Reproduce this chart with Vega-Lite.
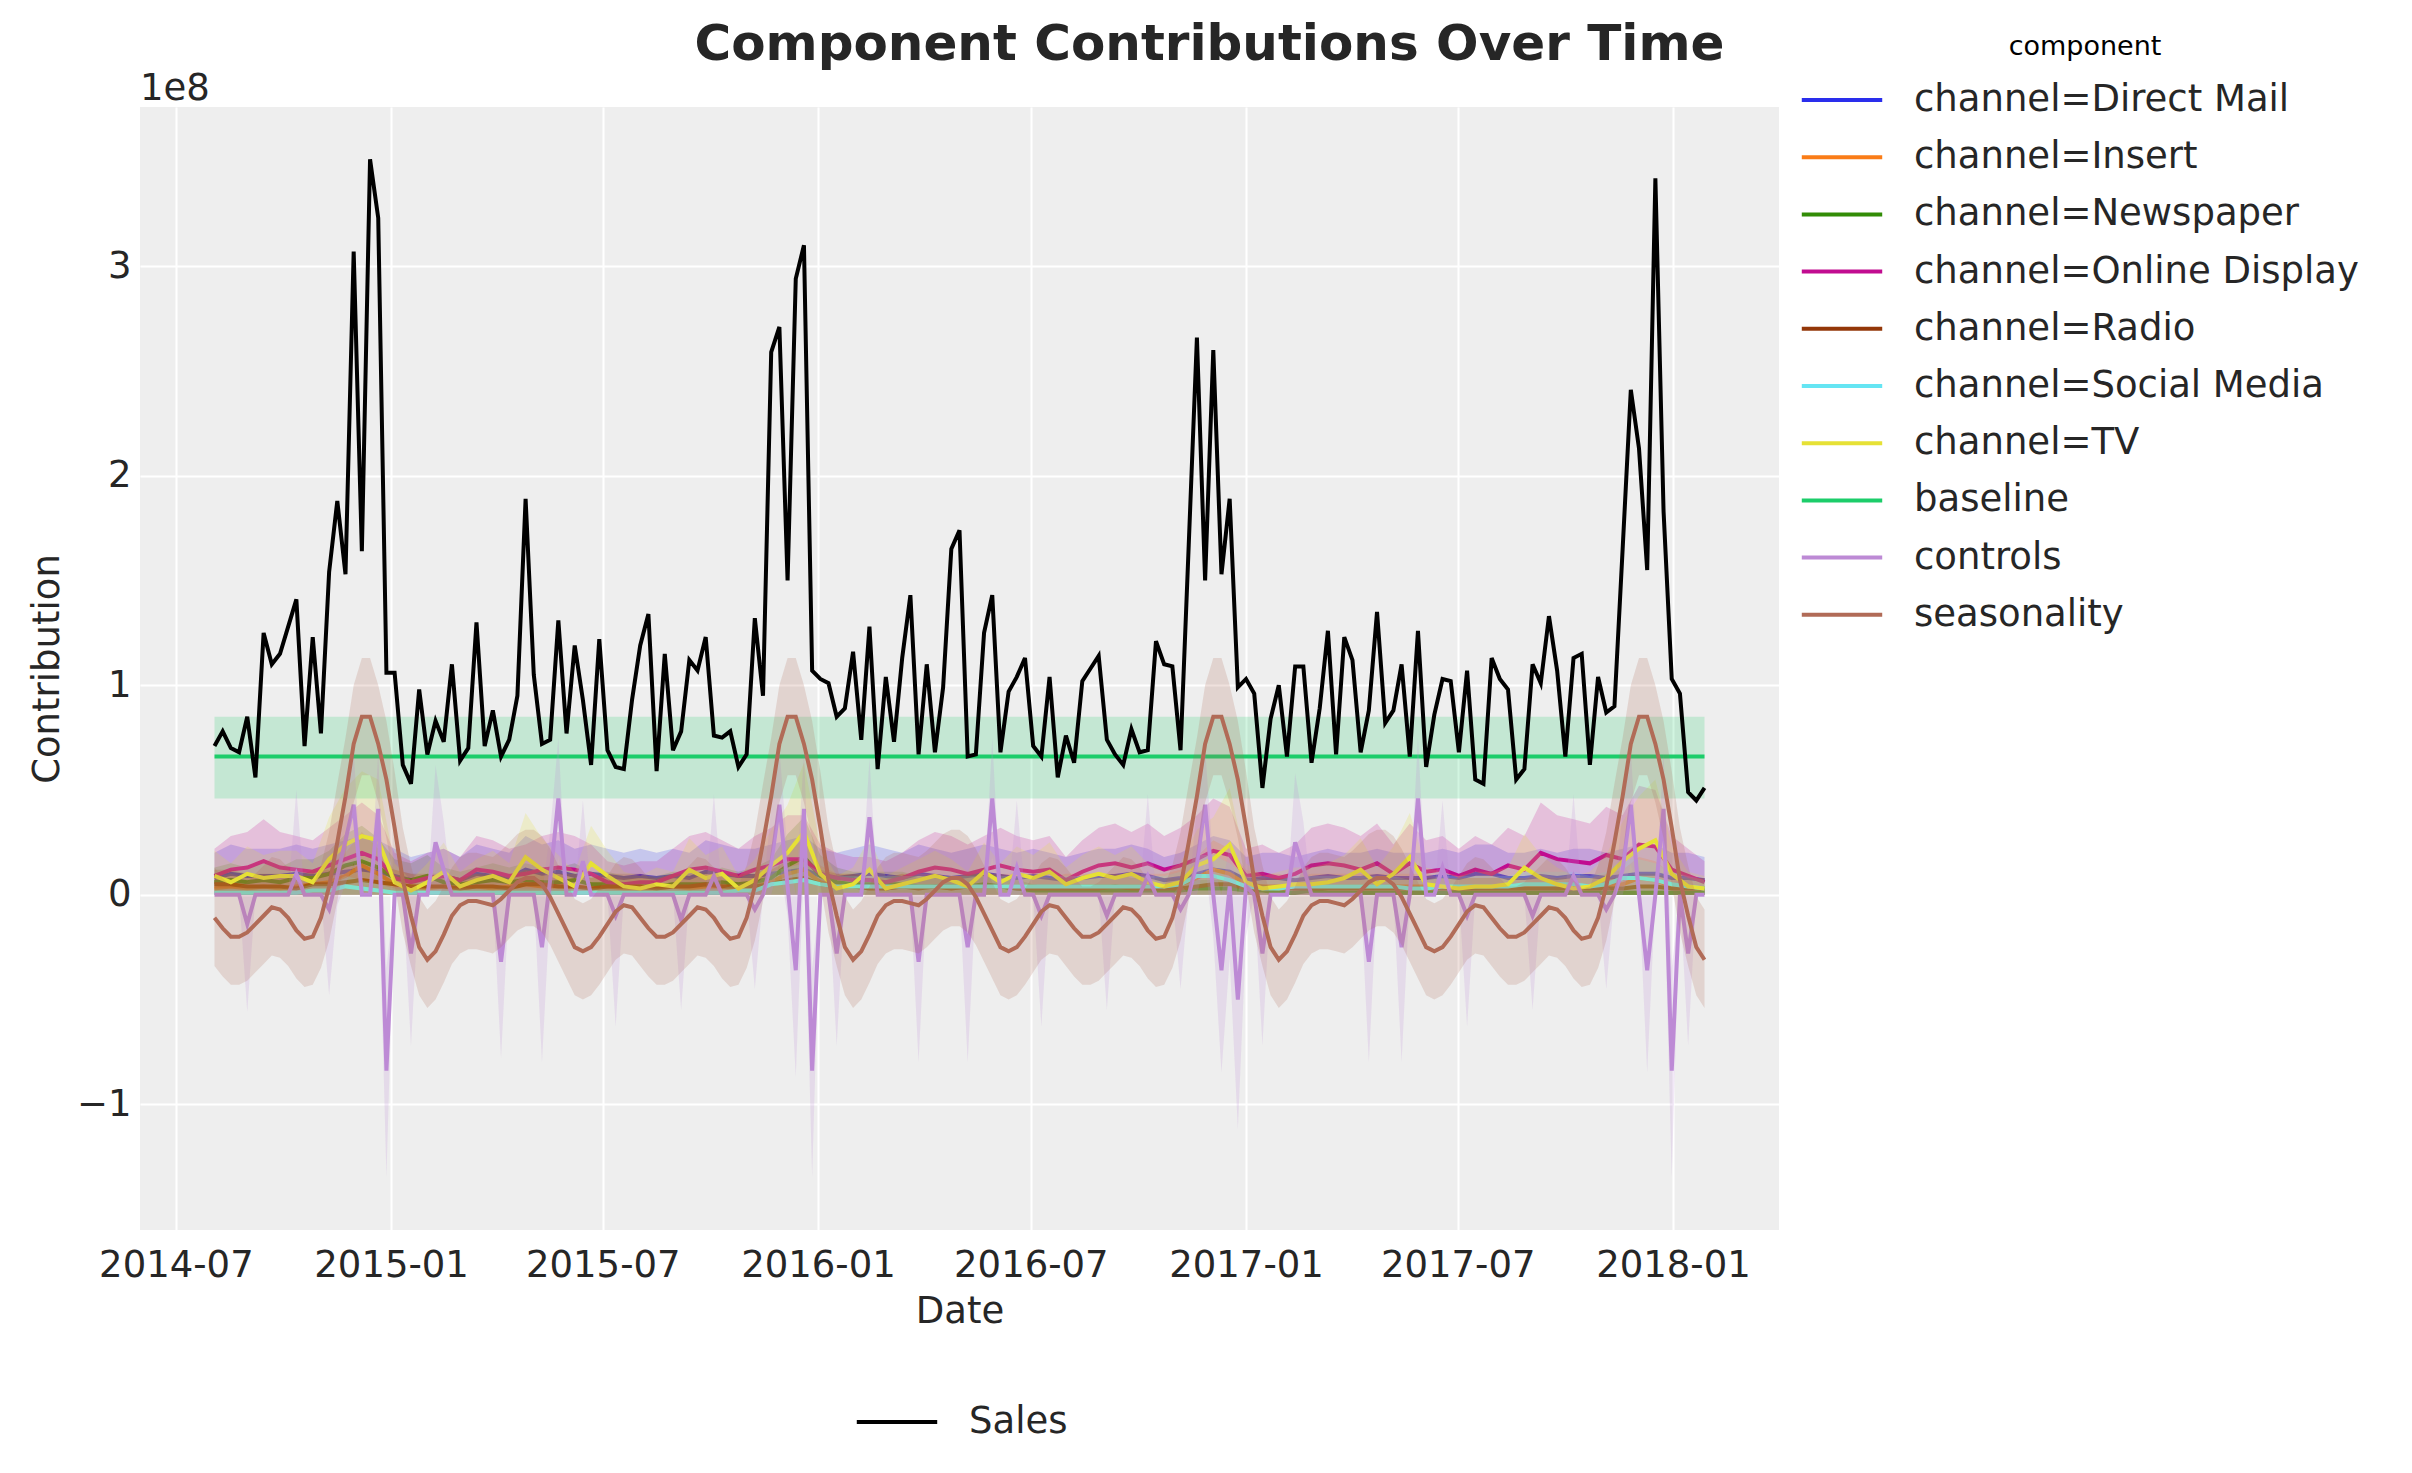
{
  "$schema": "https://vega.github.io/schema/vega-lite/v6.json",
  "width": 1639,
  "height": 1123,
  "autosize": {"type": "none"},
  "padding": {"left": 140, "top": 107, "right": 633, "bottom": 243},
  "background": "white",
  "title": {"text": "Component Contributions Over Time", "fontSize": 50, "fontWeight": "bold", "color": "#262626", "anchor": "middle", "dx": 250, "offset": -36},
  "config": {
    "font": "DejaVu Sans",
    "view": {"fill": "#eeeeee", "stroke": null},
    "range": {"category": ["#2a2eec", "#fa7c17", "#328c06", "#c10c90", "#933708", "#65e5f3", "#e6e135", "#1ccd6a", "#bd8ad5", "#b16b57"]},
    "axis": {"domain": false, "ticks": false, "grid": true, "gridColor": "#ffffff", "gridWidth": 2, "labelFontSize": 37, "labelColor": "#262626", "titleFontSize": 37, "titleFontWeight": "normal", "titleColor": "#262626", "labelPadding": 9},
    "legend": {"labelFontSize": 37, "labelColor": "#262626", "labelLimit": 800, "symbolType": "M-1.4,0H1.4", "symbolSize": 3300, "symbolStrokeWidth": 4, "labelOffset": 41}
  },
  "datasets": {
    "w": [
      {"d":"2014-08-03","s":71,"e":-11,"l":-34,"h":13,"c":0,"p":0,"q":0},
      {"d":"2014-08-10","s":78,"e":-16,"l":-39,"h":8,"c":0,"p":0,"q":0},
      {"d":"2014-08-17","s":70,"e":-20,"l":-43,"h":4,"c":0,"p":0,"q":0},
      {"d":"2014-08-24","s":68,"e":-20,"l":-43,"h":4,"c":0,"p":0,"q":0},
      {"d":"2014-08-31","s":85,"e":-18,"l":-41,"h":6,"c":-14,"p":-56,"q":0},
      {"d":"2014-09-07","s":56,"e":-14,"l":-37,"h":10,"c":0,"p":0,"q":0},
      {"d":"2014-09-14","s":125,"e":-10,"l":-33,"h":14,"c":0,"p":0,"q":0},
      {"d":"2014-09-21","s":110,"e":-6,"l":-29,"h":18,"c":0,"p":0,"q":0},
      {"d":"2014-09-28","s":115,"e":-7,"l":-30,"h":17,"c":0,"p":0,"q":0},
      {"d":"2014-10-05","s":128,"e":-11,"l":-34,"h":13,"c":0,"p":0,"q":0},
      {"d":"2014-10-12","s":141,"e":-17,"l":-40,"h":7,"c":10,"p":0,"q":50},
      {"d":"2014-10-19","s":71,"e":-21,"l":-44,"h":3,"c":0,"p":0,"q":0},
      {"d":"2014-10-26","s":123,"e":-20,"l":-43,"h":4,"c":0,"p":0,"q":0},
      {"d":"2014-11-02","s":77,"e":-11,"l":-35,"h":14,"c":0,"p":0,"q":0},
      {"d":"2014-11-09","s":154,"e":4,"l":-22,"h":30,"c":-7,"p":-48,"q":3},
      {"d":"2014-11-16","s":188,"e":25,"l":-3,"h":53,"c":9,"p":-5,"q":30},
      {"d":"2014-11-23","s":153,"e":47,"l":19,"h":75,"c":26,"p":5,"q":50},
      {"d":"2014-11-30","s":307,"e":72,"l":44,"h":100,"c":43,"p":15,"q":70},
      {"d":"2014-12-07","s":164,"e":85,"l":57,"h":113,"c":0,"p":0,"q":0},
      {"d":"2014-12-14","s":351,"e":85,"l":57,"h":113,"c":0,"p":0,"q":0},
      {"d":"2014-12-21","s":323,"e":72,"l":44,"h":100,"c":41,"p":15,"q":68},
      {"d":"2014-12-28","s":106,"e":55,"l":27,"h":83,"c":-84,"p":-135,"q":-35},
      {"d":"2015-01-04","s":106,"e":32,"l":5,"h":59,"c":0,"p":0,"q":0},
      {"d":"2015-01-11","s":62,"e":7,"l":-18,"h":32,"c":0,"p":0,"q":0},
      {"d":"2015-01-18","s":53,"e":-10,"l":-34,"h":14,"c":-28,"p":-72,"q":0},
      {"d":"2015-01-25","s":98,"e":-25,"l":-48,"h":-1,"c":0,"p":0,"q":0},
      {"d":"2015-02-01","s":67,"e":-31,"l":-54,"h":-7,"c":0,"p":0,"q":0},
      {"d":"2015-02-08","s":83,"e":-27,"l":-50,"h":-3,"c":25,"p":0,"q":62},
      {"d":"2015-02-15","s":73,"e":-19,"l":-42,"h":4,"c":12,"p":0,"q":35},
      {"d":"2015-02-22","s":110,"e":-10,"l":-33,"h":13,"c":0,"p":0,"q":0},
      {"d":"2015-03-01","s":64,"e":-5,"l":-28,"h":18,"c":0,"p":0,"q":0},
      {"d":"2015-03-08","s":70,"e":-3,"l":-26,"h":20,"c":0,"p":0,"q":0},
      {"d":"2015-03-15","s":130,"e":-3,"l":-26,"h":20,"c":0,"p":0,"q":0},
      {"d":"2015-03-22","s":71,"e":-4,"l":-27,"h":19,"c":0,"p":0,"q":0},
      {"d":"2015-03-29","s":88,"e":-5,"l":-28,"h":18,"c":0,"p":0,"q":0},
      {"d":"2015-04-05","s":66,"e":-2,"l":-25,"h":21,"c":-32,"p":-78,"q":0},
      {"d":"2015-04-12","s":74,"e":2,"l":-21,"h":25,"c":0,"p":0,"q":0},
      {"d":"2015-04-19","s":95,"e":6,"l":-17,"h":29,"c":0,"p":0,"q":0},
      {"d":"2015-04-26","s":189,"e":8,"l":-15,"h":31,"c":0,"p":0,"q":0},
      {"d":"2015-05-03","s":105,"e":8,"l":-15,"h":31,"c":0,"p":0,"q":0},
      {"d":"2015-05-10","s":72,"e":5,"l":-18,"h":28,"c":-25,"p":-80,"q":0},
      {"d":"2015-05-17","s":74,"e":-1,"l":-24,"h":22,"c":7,"p":-5,"q":30},
      {"d":"2015-05-24","s":131,"e":-9,"l":-32,"h":14,"c":46,"p":18,"q":75},
      {"d":"2015-05-31","s":77,"e":-17,"l":-40,"h":6,"c":0,"p":0,"q":0},
      {"d":"2015-06-07","s":119,"e":-25,"l":-48,"h":-2,"c":0,"p":0,"q":0},
      {"d":"2015-06-14","s":93,"e":-27,"l":-50,"h":-4,"c":16,"p":0,"q":45},
      {"d":"2015-06-21","s":62,"e":-25,"l":-48,"h":-2,"c":0,"p":0,"q":0},
      {"d":"2015-06-28","s":122,"e":-20,"l":-43,"h":3,"c":0,"p":0,"q":0},
      {"d":"2015-07-05","s":69,"e":-14,"l":-37,"h":9,"c":0,"p":0,"q":0},
      {"d":"2015-07-12","s":61,"e":-8,"l":-31,"h":15,"c":-10,"p":-63,"q":0},
      {"d":"2015-07-19","s":60,"e":-5,"l":-28,"h":18,"c":0,"p":0,"q":0},
      {"d":"2015-07-26","s":93,"e":-6,"l":-29,"h":17,"c":0,"p":0,"q":0},
      {"d":"2015-08-02","s":119,"e":-11,"l":-34,"h":13,"c":0,"p":0,"q":0},
      {"d":"2015-08-09","s":134,"e":-16,"l":-39,"h":8,"c":0,"p":0,"q":0},
      {"d":"2015-08-16","s":59,"e":-20,"l":-43,"h":4,"c":0,"p":0,"q":0},
      {"d":"2015-08-23","s":115,"e":-20,"l":-43,"h":4,"c":0,"p":0,"q":0},
      {"d":"2015-08-30","s":69,"e":-18,"l":-41,"h":6,"c":0,"p":0,"q":0},
      {"d":"2015-09-06","s":78,"e":-14,"l":-37,"h":10,"c":-12,"p":-55,"q":0},
      {"d":"2015-09-13","s":112,"e":-10,"l":-33,"h":14,"c":0,"p":0,"q":0},
      {"d":"2015-09-20","s":107,"e":-6,"l":-29,"h":18,"c":0,"p":0,"q":0},
      {"d":"2015-09-27","s":123,"e":-7,"l":-30,"h":17,"c":0,"p":0,"q":0},
      {"d":"2015-10-04","s":76,"e":-11,"l":-34,"h":13,"c":9,"p":0,"q":48},
      {"d":"2015-10-11","s":75,"e":-17,"l":-40,"h":7,"c":0,"p":0,"q":0},
      {"d":"2015-10-18","s":78,"e":-21,"l":-44,"h":3,"c":0,"p":0,"q":0},
      {"d":"2015-10-25","s":61,"e":-20,"l":-43,"h":4,"c":0,"p":0,"q":0},
      {"d":"2015-11-01","s":67,"e":-11,"l":-35,"h":14,"c":0,"p":0,"q":0},
      {"d":"2015-11-08","s":132,"e":4,"l":-22,"h":30,"c":-7,"p":-45,"q":5},
      {"d":"2015-11-15","s":95,"e":25,"l":-3,"h":53,"c":0,"p":0,"q":0},
      {"d":"2015-11-22","s":259,"e":47,"l":19,"h":75,"c":15,"p":0,"q":42},
      {"d":"2015-11-29","s":271,"e":72,"l":44,"h":100,"c":43,"p":15,"q":70},
      {"d":"2015-12-06","s":150,"e":85,"l":57,"h":113,"c":4,"p":-10,"q":20},
      {"d":"2015-12-13","s":294,"e":85,"l":57,"h":113,"c":-36,"p":-87,"q":0},
      {"d":"2015-12-20","s":310,"e":72,"l":44,"h":100,"c":41,"p":15,"q":68},
      {"d":"2015-12-27","s":107,"e":55,"l":27,"h":83,"c":-84,"p":-135,"q":-35},
      {"d":"2016-01-03","s":103,"e":32,"l":5,"h":59,"c":0,"p":0,"q":0},
      {"d":"2016-01-10","s":101,"e":7,"l":-18,"h":32,"c":0,"p":0,"q":0},
      {"d":"2016-01-17","s":85,"e":-10,"l":-34,"h":14,"c":-28,"p":-72,"q":0},
      {"d":"2016-01-24","s":89,"e":-25,"l":-48,"h":-1,"c":0,"p":0,"q":0},
      {"d":"2016-01-31","s":116,"e":-31,"l":-54,"h":-7,"c":0,"p":0,"q":0},
      {"d":"2016-02-07","s":74,"e":-27,"l":-50,"h":-3,"c":0,"p":0,"q":0},
      {"d":"2016-02-14","s":128,"e":-19,"l":-42,"h":4,"c":37,"p":5,"q":65},
      {"d":"2016-02-21","s":60,"e":-10,"l":-33,"h":13,"c":0,"p":0,"q":0},
      {"d":"2016-02-28","s":104,"e":-5,"l":-28,"h":18,"c":0,"p":0,"q":0},
      {"d":"2016-03-06","s":73,"e":-3,"l":-26,"h":20,"c":0,"p":0,"q":0},
      {"d":"2016-03-13","s":113,"e":-3,"l":-26,"h":20,"c":0,"p":0,"q":0},
      {"d":"2016-03-20","s":143,"e":-4,"l":-27,"h":19,"c":0,"p":0,"q":0},
      {"d":"2016-03-27","s":67,"e":-5,"l":-28,"h":18,"c":-32,"p":-80,"q":0},
      {"d":"2016-04-03","s":110,"e":-2,"l":-25,"h":21,"c":0,"p":0,"q":0},
      {"d":"2016-04-10","s":68,"e":2,"l":-21,"h":25,"c":0,"p":0,"q":0},
      {"d":"2016-04-17","s":99,"e":6,"l":-17,"h":29,"c":0,"p":0,"q":0},
      {"d":"2016-04-24","s":165,"e":8,"l":-15,"h":31,"c":0,"p":0,"q":0},
      {"d":"2016-05-01","s":174,"e":8,"l":-15,"h":31,"c":0,"p":0,"q":0},
      {"d":"2016-05-08","s":66,"e":5,"l":-18,"h":28,"c":-25,"p":-80,"q":0},
      {"d":"2016-05-15","s":67,"e":-1,"l":-24,"h":22,"c":0,"p":0,"q":0},
      {"d":"2016-05-22","s":125,"e":-9,"l":-32,"h":14,"c":0,"p":0,"q":0},
      {"d":"2016-05-29","s":143,"e":-17,"l":-40,"h":6,"c":46,"p":18,"q":75},
      {"d":"2016-06-05","s":68,"e":-25,"l":-48,"h":-2,"c":0,"p":0,"q":0},
      {"d":"2016-06-12","s":97,"e":-27,"l":-50,"h":-4,"c":0,"p":0,"q":0},
      {"d":"2016-06-19","s":104,"e":-25,"l":-48,"h":-2,"c":13,"p":0,"q":45},
      {"d":"2016-06-26","s":113,"e":-20,"l":-43,"h":3,"c":0,"p":0,"q":0},
      {"d":"2016-07-03","s":71,"e":-14,"l":-37,"h":9,"c":0,"p":0,"q":0},
      {"d":"2016-07-10","s":66,"e":-8,"l":-31,"h":15,"c":-10,"p":-63,"q":0},
      {"d":"2016-07-17","s":104,"e":-5,"l":-28,"h":18,"c":0,"p":0,"q":0},
      {"d":"2016-07-24","s":56,"e":-6,"l":-29,"h":17,"c":0,"p":0,"q":0},
      {"d":"2016-07-31","s":76,"e":-11,"l":-34,"h":13,"c":0,"p":0,"q":0},
      {"d":"2016-08-07","s":63,"e":-16,"l":-39,"h":8,"c":0,"p":0,"q":0},
      {"d":"2016-08-14","s":102,"e":-20,"l":-43,"h":4,"c":0,"p":0,"q":0},
      {"d":"2016-08-21","s":108,"e":-20,"l":-43,"h":4,"c":0,"p":0,"q":0},
      {"d":"2016-08-28","s":114,"e":-18,"l":-41,"h":6,"c":0,"p":0,"q":0},
      {"d":"2016-09-04","s":74,"e":-14,"l":-37,"h":10,"c":-10,"p":-55,"q":0},
      {"d":"2016-09-11","s":67,"e":-10,"l":-33,"h":14,"c":0,"p":0,"q":0},
      {"d":"2016-09-18","s":62,"e":-6,"l":-29,"h":18,"c":0,"p":0,"q":0},
      {"d":"2016-09-25","s":79,"e":-7,"l":-30,"h":17,"c":0,"p":0,"q":0},
      {"d":"2016-10-02","s":68,"e":-11,"l":-34,"h":13,"c":0,"p":0,"q":0},
      {"d":"2016-10-09","s":69,"e":-17,"l":-40,"h":7,"c":9,"p":0,"q":48},
      {"d":"2016-10-16","s":121,"e":-21,"l":-44,"h":3,"c":0,"p":0,"q":0},
      {"d":"2016-10-23","s":110,"e":-20,"l":-43,"h":4,"c":0,"p":0,"q":0},
      {"d":"2016-10-30","s":109,"e":-11,"l":-35,"h":14,"c":0,"p":0,"q":0},
      {"d":"2016-11-06","s":69,"e":4,"l":-22,"h":30,"c":-7,"p":-45,"q":5},
      {"d":"2016-11-13","s":167,"e":25,"l":-3,"h":53,"c":0,"p":0,"q":0},
      {"d":"2016-11-20","s":266,"e":47,"l":19,"h":75,"c":15,"p":0,"q":42},
      {"d":"2016-11-27","s":150,"e":72,"l":44,"h":100,"c":43,"p":15,"q":70},
      {"d":"2016-12-04","s":260,"e":85,"l":57,"h":113,"c":0,"p":-20,"q":15},
      {"d":"2016-12-11","s":153,"e":85,"l":57,"h":113,"c":-36,"p":-85,"q":0},
      {"d":"2016-12-18","s":189,"e":72,"l":44,"h":100,"c":4,"p":-30,"q":25},
      {"d":"2016-12-25","s":99,"e":55,"l":27,"h":83,"c":-50,"p":-112,"q":0},
      {"d":"2017-01-01","s":103,"e":32,"l":5,"h":59,"c":4,"p":-20,"q":20},
      {"d":"2017-01-08","s":96,"e":7,"l":-18,"h":32,"c":0,"p":0,"q":0},
      {"d":"2017-01-15","s":51,"e":-10,"l":-34,"h":14,"c":-28,"p":-72,"q":0},
      {"d":"2017-01-22","s":84,"e":-25,"l":-48,"h":-1,"c":0,"p":0,"q":0},
      {"d":"2017-01-29","s":100,"e":-31,"l":-54,"h":-7,"c":0,"p":0,"q":0},
      {"d":"2017-02-05","s":66,"e":-27,"l":-50,"h":-3,"c":0,"p":0,"q":0},
      {"d":"2017-02-12","s":109,"e":-19,"l":-42,"h":4,"c":25,"p":0,"q":58},
      {"d":"2017-02-19","s":109,"e":-10,"l":-33,"h":13,"c":13,"p":0,"q":35},
      {"d":"2017-02-26","s":63,"e":-5,"l":-28,"h":18,"c":0,"p":0,"q":0},
      {"d":"2017-03-05","s":89,"e":-3,"l":-26,"h":20,"c":0,"p":0,"q":0},
      {"d":"2017-03-12","s":126,"e":-3,"l":-26,"h":20,"c":0,"p":0,"q":0},
      {"d":"2017-03-19","s":67,"e":-4,"l":-27,"h":19,"c":0,"p":0,"q":0},
      {"d":"2017-03-26","s":123,"e":-5,"l":-28,"h":18,"c":0,"p":0,"q":0},
      {"d":"2017-04-02","s":112,"e":-2,"l":-25,"h":21,"c":0,"p":0,"q":0},
      {"d":"2017-04-09","s":68,"e":2,"l":-21,"h":25,"c":0,"p":0,"q":0},
      {"d":"2017-04-16","s":88,"e":6,"l":-17,"h":29,"c":-32,"p":-80,"q":0},
      {"d":"2017-04-23","s":135,"e":8,"l":-15,"h":31,"c":0,"p":0,"q":0},
      {"d":"2017-04-30","s":82,"e":8,"l":-15,"h":31,"c":0,"p":0,"q":0},
      {"d":"2017-05-07","s":88,"e":5,"l":-18,"h":28,"c":0,"p":0,"q":0},
      {"d":"2017-05-14","s":110,"e":-1,"l":-24,"h":22,"c":-25,"p":-80,"q":0},
      {"d":"2017-05-21","s":66,"e":-9,"l":-32,"h":14,"c":0,"p":0,"q":0},
      {"d":"2017-05-28","s":126,"e":-17,"l":-40,"h":6,"c":46,"p":18,"q":75},
      {"d":"2017-06-04","s":61,"e":-25,"l":-48,"h":-2,"c":0,"p":0,"q":0},
      {"d":"2017-06-11","s":86,"e":-27,"l":-50,"h":-4,"c":0,"p":0,"q":0},
      {"d":"2017-06-18","s":103,"e":-25,"l":-48,"h":-2,"c":13,"p":0,"q":45},
      {"d":"2017-06-25","s":102,"e":-20,"l":-43,"h":3,"c":0,"p":0,"q":0},
      {"d":"2017-07-02","s":68,"e":-14,"l":-37,"h":9,"c":0,"p":0,"q":0},
      {"d":"2017-07-09","s":107,"e":-8,"l":-31,"h":15,"c":-10,"p":-63,"q":0},
      {"d":"2017-07-16","s":55,"e":-5,"l":-28,"h":18,"c":0,"p":0,"q":0},
      {"d":"2017-07-23","s":53,"e":-6,"l":-29,"h":17,"c":0,"p":0,"q":0},
      {"d":"2017-07-30","s":113,"e":-11,"l":-34,"h":13,"c":0,"p":0,"q":0},
      {"d":"2017-08-06","s":103,"e":-16,"l":-39,"h":8,"c":0,"p":0,"q":0},
      {"d":"2017-08-13","s":98,"e":-20,"l":-43,"h":4,"c":0,"p":0,"q":0},
      {"d":"2017-08-20","s":55,"e":-20,"l":-43,"h":4,"c":0,"p":0,"q":0},
      {"d":"2017-08-27","s":60,"e":-18,"l":-41,"h":6,"c":0,"p":0,"q":0},
      {"d":"2017-09-03","s":110,"e":-14,"l":-37,"h":10,"c":-10,"p":-55,"q":0},
      {"d":"2017-09-10","s":101,"e":-10,"l":-33,"h":14,"c":0,"p":0,"q":0},
      {"d":"2017-09-17","s":133,"e":-6,"l":-29,"h":18,"c":0,"p":0,"q":0},
      {"d":"2017-09-24","s":107,"e":-7,"l":-30,"h":17,"c":0,"p":0,"q":0},
      {"d":"2017-10-01","s":66,"e":-11,"l":-34,"h":13,"c":0,"p":0,"q":0},
      {"d":"2017-10-08","s":113,"e":-17,"l":-40,"h":7,"c":9,"p":0,"q":48},
      {"d":"2017-10-15","s":115,"e":-21,"l":-44,"h":3,"c":0,"p":0,"q":0},
      {"d":"2017-10-22","s":62,"e":-20,"l":-43,"h":4,"c":0,"p":0,"q":0},
      {"d":"2017-10-29","s":104,"e":-11,"l":-35,"h":14,"c":0,"p":0,"q":0},
      {"d":"2017-11-05","s":87,"e":4,"l":-22,"h":30,"c":-7,"p":-45,"q":5},
      {"d":"2017-11-12","s":90,"e":25,"l":-3,"h":53,"c":0,"p":0,"q":0},
      {"d":"2017-11-19","s":165,"e":47,"l":19,"h":75,"c":12,"p":0,"q":40},
      {"d":"2017-11-26","s":241,"e":72,"l":44,"h":100,"c":43,"p":15,"q":70},
      {"d":"2017-12-03","s":213,"e":85,"l":57,"h":113,"c":0,"p":0,"q":0},
      {"d":"2017-12-10","s":155,"e":85,"l":57,"h":113,"c":-36,"p":-85,"q":0},
      {"d":"2017-12-17","s":342,"e":72,"l":44,"h":100,"c":0,"p":0,"q":0},
      {"d":"2017-12-24","s":183,"e":55,"l":27,"h":83,"c":41,"p":15,"q":68},
      {"d":"2017-12-31","s":103,"e":32,"l":5,"h":59,"c":-84,"p":-135,"q":-35},
      {"d":"2018-01-07","s":96,"e":7,"l":-18,"h":32,"c":0,"p":0,"q":0},
      {"d":"2018-01-14","s":49,"e":-10,"l":-34,"h":14,"c":-28,"p":-72,"q":0},
      {"d":"2018-01-21","s":45,"e":-25,"l":-48,"h":-1,"c":0,"p":0,"q":0},
      {"d":"2018-01-28","s":51,"e":-31,"l":-54,"h":-7,"c":0,"p":0,"q":0}
    ],
    "ch": [
      {"d":"2014-08-03","a":8,"b":3,"g":6,"o":9,"r":5,"m":1,"t":9,"A":20,"B":8,"G":13,"O":22,"R":12,"M":3,"T":21},
      {"d":"2014-08-17","a":10,"b":4,"g":7,"o":12,"r":5,"m":1,"t":6,"A":24,"B":10,"G":15,"O":28,"R":12,"M":3,"T":15},
      {"d":"2014-08-31","a":9,"b":3,"g":6,"o":13,"r":4,"m":1,"t":10,"A":22,"B":8,"G":13,"O":30,"R":10,"M":3,"T":23},
      {"d":"2014-09-14","a":9,"b":4,"g":7,"o":16,"r":4,"m":1,"t":8,"A":22,"B":10,"G":15,"O":36,"R":10,"M":3,"T":19},
      {"d":"2014-09-28","a":9,"b":3,"g":6,"o":13,"r":4,"m":1,"t":9,"A":22,"B":8,"G":13,"O":30,"R":10,"M":3,"T":21},
      {"d":"2014-10-12","a":10,"b":4,"g":8,"o":12,"r":3,"m":1,"t":9,"A":24,"B":10,"G":17,"O":28,"R":8,"M":3,"T":21},
      {"d":"2014-10-26","a":9,"b":5,"g":8,"o":11,"r":5,"m":2,"t":6,"A":22,"B":12,"G":17,"O":26,"R":12,"M":5,"T":15},
      {"d":"2014-11-09","a":10,"b":6,"g":10,"o":14,"r":5,"m":2,"t":17,"A":24,"B":14,"G":21,"O":32,"R":12,"M":5,"T":37},
      {"d":"2014-11-23","a":11,"b":9,"g":14,"o":17,"r":6,"m":4,"t":24,"A":26,"B":20,"G":29,"O":38,"R":14,"M":9,"T":51},
      {"d":"2014-12-07","a":12,"b":14,"g":16,"o":20,"r":7,"m":3,"t":28,"A":28,"B":30,"G":33,"O":44,"R":16,"M":7,"T":59},
      {"d":"2014-12-21","a":11,"b":10,"g":13,"o":17,"r":6,"m":2,"t":26,"A":26,"B":22,"G":27,"O":38,"R":14,"M":5,"T":55},
      {"d":"2015-01-04","a":9,"b":5,"g":8,"o":8,"r":5,"m":1,"t":6,"A":22,"B":12,"G":17,"O":20,"R":12,"M":3,"T":15},
      {"d":"2015-01-18","a":7,"b":4,"g":7,"o":6,"r":4,"m":1,"t":2,"A":18,"B":10,"G":15,"O":16,"R":10,"M":3,"T":7},
      {"d":"2015-02-01","a":8,"b":3,"g":9,"o":8,"r":4,"m":1,"t":6,"A":20,"B":8,"G":19,"O":20,"R":10,"M":3,"T":15},
      {"d":"2015-02-15","a":9,"b":4,"g":6,"o":9,"r":4,"m":1,"t":11,"A":22,"B":10,"G":13,"O":22,"R":10,"M":3,"T":25},
      {"d":"2015-03-01","a":7,"b":3,"g":5,"o":7,"r":3,"m":1,"t":4,"A":18,"B":8,"G":11,"O":18,"R":8,"M":3,"T":11},
      {"d":"2015-03-15","a":10,"b":4,"g":6,"o":12,"r":4,"m":1,"t":7,"A":24,"B":10,"G":13,"O":28,"R":10,"M":3,"T":17},
      {"d":"2015-03-29","a":9,"b":3,"g":7,"o":11,"r":4,"m":1,"t":9,"A":22,"B":8,"G":15,"O":26,"R":10,"M":3,"T":21},
      {"d":"2015-04-12","a":8,"b":4,"g":6,"o":9,"r":3,"m":1,"t":6,"A":20,"B":10,"G":13,"O":22,"R":8,"M":3,"T":15},
      {"d":"2015-04-26","a":12,"b":5,"g":7,"o":10,"r":5,"m":1,"t":18,"A":28,"B":12,"G":15,"O":24,"R":12,"M":3,"T":39},
      {"d":"2015-05-10","a":10,"b":4,"g":6,"o":12,"r":5,"m":1,"t":12,"A":24,"B":10,"G":13,"O":28,"R":12,"M":3,"T":27},
      {"d":"2015-05-24","a":11,"b":4,"g":6,"o":13,"r":4,"m":1,"t":8,"A":26,"B":10,"G":13,"O":30,"R":10,"M":3,"T":19},
      {"d":"2015-06-07","a":9,"b":4,"g":7,"o":12,"r":4,"m":1,"t":4,"A":22,"B":10,"G":15,"O":28,"R":10,"M":3,"T":11},
      {"d":"2015-06-21","a":10,"b":3,"g":5,"o":10,"r":3,"m":1,"t":15,"A":24,"B":8,"G":11,"O":24,"R":8,"M":3,"T":33},
      {"d":"2015-07-05","a":9,"b":4,"g":5,"o":6,"r":4,"m":1,"t":9,"A":22,"B":10,"G":11,"O":16,"R":10,"M":3,"T":21},
      {"d":"2015-07-19","a":8,"b":3,"g":4,"o":5,"r":4,"m":1,"t":4,"A":20,"B":8,"G":9,"O":14,"R":10,"M":3,"T":11},
      {"d":"2015-08-02","a":9,"b":3,"g":4,"o":6,"r":4,"m":1,"t":3,"A":22,"B":8,"G":9,"O":16,"R":10,"M":3,"T":9},
      {"d":"2015-08-16","a":8,"b":3,"g":4,"o":6,"r":3,"m":1,"t":5,"A":20,"B":8,"G":9,"O":16,"R":8,"M":3,"T":13},
      {"d":"2015-08-30","a":9,"b":4,"g":5,"o":9,"r":4,"m":1,"t":4,"A":22,"B":10,"G":11,"O":22,"R":10,"M":3,"T":11},
      {"d":"2015-09-13","a":8,"b":3,"g":5,"o":12,"r":4,"m":1,"t":12,"A":20,"B":8,"G":11,"O":28,"R":10,"M":3,"T":27},
      {"d":"2015-09-27","a":11,"b":4,"g":5,"o":13,"r":5,"m":1,"t":8,"A":26,"B":10,"G":11,"O":30,"R":12,"M":3,"T":19},
      {"d":"2015-10-11","a":10,"b":4,"g":6,"o":11,"r":4,"m":1,"t":10,"A":24,"B":10,"G":13,"O":26,"R":10,"M":3,"T":23},
      {"d":"2015-10-25","a":9,"b":3,"g":5,"o":9,"r":4,"m":2,"t":3,"A":22,"B":8,"G":11,"O":22,"R":10,"M":5,"T":9},
      {"d":"2015-11-08","a":9,"b":4,"g":6,"o":12,"r":4,"m":2,"t":7,"A":22,"B":10,"G":13,"O":28,"R":10,"M":5,"T":17},
      {"d":"2015-11-22","a":10,"b":6,"g":8,"o":14,"r":5,"m":5,"t":14,"A":24,"B":14,"G":17,"O":32,"R":12,"M":11,"T":31},
      {"d":"2015-12-06","a":11,"b":10,"g":14,"o":17,"r":7,"m":6,"t":20,"A":26,"B":22,"G":29,"O":38,"R":16,"M":13,"T":43},
      {"d":"2015-12-20","a":12,"b":12,"g":18,"o":17,"r":8,"m":7,"t":30,"A":28,"B":26,"G":37,"O":38,"R":18,"M":15,"T":63},
      {"d":"2016-01-03","a":9,"b":6,"g":9,"o":10,"r":5,"m":5,"t":10,"A":22,"B":14,"G":19,"O":24,"R":12,"M":11,"T":23},
      {"d":"2016-01-17","a":8,"b":4,"g":6,"o":8,"r":4,"m":4,"t":3,"A":20,"B":10,"G":13,"O":20,"R":10,"M":9,"T":9},
      {"d":"2016-01-31","a":9,"b":4,"g":5,"o":7,"r":4,"m":4,"t":5,"A":22,"B":10,"G":11,"O":18,"R":10,"M":9,"T":13},
      {"d":"2016-02-14","a":10,"b":4,"g":5,"o":7,"r":3,"m":4,"t":12,"A":24,"B":10,"G":11,"O":18,"R":8,"M":9,"T":27},
      {"d":"2016-02-28","a":9,"b":3,"g":5,"o":6,"r":3,"m":4,"t":3,"A":22,"B":8,"G":11,"O":16,"R":8,"M":9,"T":9},
      {"d":"2016-03-13","a":8,"b":4,"g":5,"o":8,"r":4,"m":4,"t":5,"A":20,"B":10,"G":11,"O":20,"R":10,"M":9,"T":13},
      {"d":"2016-03-27","a":10,"b":4,"g":4,"o":11,"r":3,"m":4,"t":7,"A":24,"B":10,"G":9,"O":26,"R":8,"M":9,"T":17},
      {"d":"2016-04-10","a":9,"b":4,"g":4,"o":13,"r":4,"m":4,"t":9,"A":22,"B":10,"G":9,"O":30,"R":10,"M":9,"T":21},
      {"d":"2016-04-24","a":8,"b":3,"g":4,"o":12,"r":3,"m":4,"t":7,"A":20,"B":8,"G":9,"O":28,"R":8,"M":9,"T":17},
      {"d":"2016-05-08","a":9,"b":4,"g":4,"o":10,"r":4,"m":4,"t":4,"A":22,"B":10,"G":9,"O":24,"R":10,"M":9,"T":11},
      {"d":"2016-05-22","a":10,"b":4,"g":5,"o":12,"r":4,"m":4,"t":11,"A":24,"B":10,"G":11,"O":28,"R":10,"M":9,"T":25},
      {"d":"2016-06-05","a":9,"b":4,"g":4,"o":14,"r":4,"m":4,"t":6,"A":22,"B":10,"G":9,"O":32,"R":10,"M":9,"T":15},
      {"d":"2016-06-19","a":8,"b":4,"g":3,"o":12,"r":3,"m":4,"t":10,"A":20,"B":10,"G":7,"O":28,"R":8,"M":9,"T":23},
      {"d":"2016-07-03","a":9,"b":4,"g":2,"o":11,"r":3,"m":4,"t":8,"A":22,"B":10,"G":5,"O":26,"R":8,"M":9,"T":19},
      {"d":"2016-07-17","a":8,"b":3,"g":2,"o":12,"r":3,"m":4,"t":11,"A":20,"B":8,"G":5,"O":28,"R":8,"M":9,"T":25},
      {"d":"2016-07-31","a":7,"b":4,"g":2,"o":7,"r":3,"m":4,"t":5,"A":18,"B":10,"G":5,"O":18,"R":8,"M":9,"T":13},
      {"d":"2016-08-14","a":8,"b":4,"g":2,"o":11,"r":3,"m":4,"t":8,"A":20,"B":10,"G":5,"O":26,"R":8,"M":9,"T":19},
      {"d":"2016-08-28","a":9,"b":4,"g":2,"o":14,"r":3,"m":4,"t":10,"A":22,"B":10,"G":5,"O":32,"R":8,"M":9,"T":23},
      {"d":"2016-09-11","a":9,"b":4,"g":2,"o":15,"r":4,"m":4,"t":8,"A":22,"B":10,"G":5,"O":34,"R":10,"M":9,"T":19},
      {"d":"2016-09-25","a":10,"b":4,"g":2,"o":13,"r":3,"m":4,"t":10,"A":24,"B":10,"G":5,"O":30,"R":8,"M":9,"T":23},
      {"d":"2016-10-09","a":9,"b":4,"g":2,"o":15,"r":3,"m":4,"t":6,"A":22,"B":10,"G":5,"O":34,"R":8,"M":9,"T":15},
      {"d":"2016-10-23","a":7,"b":4,"g":2,"o":12,"r":3,"m":4,"t":4,"A":18,"B":10,"G":5,"O":28,"R":8,"M":9,"T":11},
      {"d":"2016-11-06","a":8,"b":5,"g":2,"o":14,"r":3,"m":5,"t":6,"A":20,"B":12,"G":5,"O":32,"R":8,"M":11,"T":15},
      {"d":"2016-11-20","a":10,"b":8,"g":3,"o":17,"r":4,"m":9,"t":14,"A":24,"B":18,"G":7,"O":38,"R":10,"M":19,"T":31},
      {"d":"2016-12-04","a":12,"b":12,"g":3,"o":21,"r":5,"m":9,"t":17,"A":28,"B":26,"G":7,"O":46,"R":12,"M":19,"T":37},
      {"d":"2016-12-18","a":11,"b":10,"g":3,"o":19,"r":5,"m":7,"t":24,"A":26,"B":22,"G":7,"O":42,"R":12,"M":15,"T":51},
      {"d":"2017-01-01","a":7,"b":5,"g":2,"o":9,"r":3,"m":4,"t":6,"A":18,"B":12,"G":5,"O":22,"R":8,"M":9,"T":15},
      {"d":"2017-01-15","a":8,"b":4,"g":2,"o":10,"r":3,"m":3,"t":3,"A":20,"B":10,"G":5,"O":24,"R":8,"M":7,"T":9},
      {"d":"2017-01-29","a":8,"b":4,"g":1,"o":8,"r":3,"m":3,"t":4,"A":20,"B":10,"G":3,"O":20,"R":8,"M":7,"T":11},
      {"d":"2017-02-12","a":7,"b":3,"g":1,"o":10,"r":3,"m":4,"t":5,"A":18,"B":8,"G":3,"O":24,"R":8,"M":9,"T":13},
      {"d":"2017-02-26","a":8,"b":4,"g":2,"o":14,"r":3,"m":4,"t":5,"A":20,"B":10,"G":5,"O":32,"R":8,"M":9,"T":13},
      {"d":"2017-03-12","a":9,"b":4,"g":1,"o":15,"r":3,"m":4,"t":6,"A":22,"B":10,"G":3,"O":34,"R":8,"M":9,"T":15},
      {"d":"2017-03-26","a":8,"b":4,"g":1,"o":14,"r":3,"m":4,"t":8,"A":20,"B":10,"G":3,"O":32,"R":8,"M":9,"T":19},
      {"d":"2017-04-09","a":8,"b":4,"g":1,"o":12,"r":3,"m":4,"t":12,"A":20,"B":10,"G":3,"O":28,"R":8,"M":9,"T":27},
      {"d":"2017-04-23","a":9,"b":4,"g":1,"o":15,"r":3,"m":4,"t":5,"A":22,"B":10,"G":3,"O":34,"R":8,"M":9,"T":13},
      {"d":"2017-05-07","a":8,"b":4,"g":1,"o":10,"r":3,"m":4,"t":10,"A":20,"B":10,"G":3,"O":24,"R":8,"M":9,"T":23},
      {"d":"2017-05-21","a":8,"b":4,"g":1,"o":15,"r":3,"m":3,"t":18,"A":20,"B":10,"G":3,"O":34,"R":8,"M":7,"T":39},
      {"d":"2017-06-04","a":8,"b":4,"g":1,"o":11,"r":3,"m":3,"t":5,"A":20,"B":10,"G":3,"O":26,"R":8,"M":7,"T":13},
      {"d":"2017-06-18","a":9,"b":3,"g":1,"o":12,"r":3,"m":4,"t":4,"A":22,"B":8,"G":3,"O":28,"R":8,"M":9,"T":11},
      {"d":"2017-07-02","a":8,"b":3,"g":1,"o":9,"r":3,"m":4,"t":3,"A":20,"B":8,"G":3,"O":22,"R":8,"M":9,"T":9},
      {"d":"2017-07-16","a":10,"b":3,"g":1,"o":12,"r":3,"m":4,"t":4,"A":24,"B":8,"G":3,"O":28,"R":8,"M":9,"T":11},
      {"d":"2017-07-30","a":10,"b":3,"g":1,"o":10,"r":3,"m":4,"t":4,"A":24,"B":8,"G":3,"O":24,"R":8,"M":9,"T":11},
      {"d":"2017-08-13","a":8,"b":3,"g":1,"o":14,"r":3,"m":4,"t":5,"A":20,"B":8,"G":3,"O":32,"R":8,"M":9,"T":13},
      {"d":"2017-08-27","a":8,"b":3,"g":1,"o":12,"r":3,"m":5,"t":13,"A":20,"B":8,"G":3,"O":28,"R":8,"M":11,"T":29},
      {"d":"2017-09-10","a":9,"b":4,"g":1,"o":20,"r":3,"m":5,"t":8,"A":22,"B":10,"G":3,"O":44,"R":8,"M":11,"T":19},
      {"d":"2017-09-24","a":8,"b":3,"g":1,"o":17,"r":3,"m":5,"t":5,"A":20,"B":8,"G":3,"O":38,"R":8,"M":11,"T":13},
      {"d":"2017-10-08","a":9,"b":4,"g":1,"o":16,"r":3,"m":5,"t":3,"A":22,"B":10,"G":3,"O":36,"R":8,"M":11,"T":9},
      {"d":"2017-10-22","a":9,"b":3,"g":1,"o":15,"r":3,"m":4,"t":4,"A":22,"B":8,"G":3,"O":34,"R":8,"M":9,"T":11},
      {"d":"2017-11-05","a":8,"b":4,"g":1,"o":19,"r":3,"m":5,"t":8,"A":20,"B":10,"G":3,"O":42,"R":8,"M":11,"T":19},
      {"d":"2017-11-19","a":9,"b":5,"g":1,"o":17,"r":3,"m":8,"t":16,"A":22,"B":12,"G":3,"O":38,"R":8,"M":17,"T":35},
      {"d":"2017-12-03","a":10,"b":8,"g":1,"o":24,"r":4,"m":8,"t":22,"A":24,"B":18,"G":3,"O":52,"R":10,"M":17,"T":47},
      {"d":"2017-12-17","a":10,"b":7,"g":1,"o":23,"r":4,"m":7,"t":26,"A":24,"B":16,"G":3,"O":50,"R":10,"M":15,"T":55},
      {"d":"2017-12-31","a":8,"b":4,"g":1,"o":12,"r":3,"m":5,"t":10,"A":20,"B":10,"G":3,"O":28,"R":8,"M":11,"T":23},
      {"d":"2018-01-14","a":8,"b":3,"g":1,"o":9,"r":3,"m":4,"t":4,"A":20,"B":8,"G":3,"O":22,"R":8,"M":9,"T":11},
      {"d":"2018-01-28","a":7,"b":3,"g":1,"o":6,"r":3,"m":3,"t":3,"A":18,"B":8,"G":3,"O":16,"R":8,"M":7,"T":9}
    ],
    "bl": [
      {"d":"2014-08-03","v":66,"l":46,"h":85},
      {"d":"2018-01-28","v":66,"l":46,"h":85}
    ]
  },
  "encoding": {
    "x": {
      "field": "d",
      "type": "temporal",
      "scale": {"type": "utc", "domain": [{"year": 2014, "month": 5, "date": 31, "hours": 7, "minutes": 12, "utc": true}, {"year": 2018, "month": 4, "date": 1, "hours": 16, "minutes": 48, "utc": true}]},
      "axis": {
        "title": "Date",
        "format": "%Y-%m",
        "labelOverlap": false,
        "labelFlush": false,
        "labelPadding": 17,
        "titlePadding": 10,
        "values": [
          {"year": 2014, "month": 7, "date": 1, "utc": true},
          {"year": 2015, "month": 1, "date": 1, "utc": true},
          {"year": 2015, "month": 7, "date": 1, "utc": true},
          {"year": 2016, "month": 1, "date": 1, "utc": true},
          {"year": 2016, "month": 7, "date": 1, "utc": true},
          {"year": 2017, "month": 1, "date": 1, "utc": true},
          {"year": 2017, "month": 7, "date": 1, "utc": true},
          {"year": 2018, "month": 1, "date": 1, "utc": true}
        ]
      }
    }
  },
  "layer": [
    {
      "data": {"name": "ch"},
      "mark": {"type": "area", "color": "#2a2eec", "opacity": 0.2},
      "encoding": {
        "y": {"field": "A", "type": "quantitative", "scale": {"domain": [-160, 376], "nice": false, "zero": false}},
        "y2": {"datum": 0}
      }
    },
    {
      "data": {"name": "ch"},
      "mark": {"type": "line", "strokeWidth": 4},
      "encoding": {
        "y": {"field": "a", "type": "quantitative", "scale": {"domain": [-160, 376], "nice": false, "zero": false}},
        "color": {
          "datum": "channel=Direct Mail",
          "scale": {"domain": ["channel=Direct Mail", "channel=Insert", "channel=Newspaper", "channel=Online Display", "channel=Radio", "channel=Social Media", "channel=TV", "baseline", "controls", "seasonality"]},
          "legend": {"title": "component", "orient": "none", "legendX": 1671, "legendY": -73, "titleFontSize": 27, "titleFontWeight": "normal", "titleAnchor": "middle", "titlePadding": 8, "rowPadding": 8.2}
        }
      }
    },
    {
      "data": {"name": "ch"},
      "mark": {"type": "area", "color": "#fa7c17", "opacity": 0.2},
      "encoding": {
        "y": {"field": "B", "type": "quantitative", "scale": {"domain": [-160, 376], "nice": false, "zero": false}},
        "y2": {"datum": 0}
      }
    },
    {
      "data": {"name": "ch"},
      "mark": {"type": "line", "strokeWidth": 4},
      "encoding": {
        "y": {"field": "b", "type": "quantitative", "scale": {"domain": [-160, 376], "nice": false, "zero": false}},
        "color": {"datum": "channel=Insert"}
      }
    },
    {
      "data": {"name": "ch"},
      "mark": {"type": "area", "color": "#328c06", "opacity": 0.2},
      "encoding": {
        "y": {"field": "G", "type": "quantitative", "scale": {"domain": [-160, 376], "nice": false, "zero": false}},
        "y2": {"datum": 0}
      }
    },
    {
      "data": {"name": "ch"},
      "mark": {"type": "line", "strokeWidth": 4},
      "encoding": {
        "y": {"field": "g", "type": "quantitative", "scale": {"domain": [-160, 376], "nice": false, "zero": false}},
        "color": {"datum": "channel=Newspaper"}
      }
    },
    {
      "data": {"name": "ch"},
      "mark": {"type": "area", "color": "#c10c90", "opacity": 0.2},
      "encoding": {
        "y": {"field": "O", "type": "quantitative", "scale": {"domain": [-160, 376], "nice": false, "zero": false}},
        "y2": {"datum": 0}
      }
    },
    {
      "data": {"name": "ch"},
      "mark": {"type": "line", "strokeWidth": 4},
      "encoding": {
        "y": {"field": "o", "type": "quantitative", "scale": {"domain": [-160, 376], "nice": false, "zero": false}},
        "color": {"datum": "channel=Online Display"}
      }
    },
    {
      "data": {"name": "ch"},
      "mark": {"type": "area", "color": "#933708", "opacity": 0.2},
      "encoding": {
        "y": {"field": "R", "type": "quantitative", "scale": {"domain": [-160, 376], "nice": false, "zero": false}},
        "y2": {"datum": 0}
      }
    },
    {
      "data": {"name": "ch"},
      "mark": {"type": "line", "strokeWidth": 4},
      "encoding": {
        "y": {"field": "r", "type": "quantitative", "scale": {"domain": [-160, 376], "nice": false, "zero": false}},
        "color": {"datum": "channel=Radio"}
      }
    },
    {
      "data": {"name": "ch"},
      "mark": {"type": "area", "color": "#65e5f3", "opacity": 0.2},
      "encoding": {
        "y": {"field": "M", "type": "quantitative", "scale": {"domain": [-160, 376], "nice": false, "zero": false}},
        "y2": {"datum": 0}
      }
    },
    {
      "data": {"name": "ch"},
      "mark": {"type": "line", "strokeWidth": 4},
      "encoding": {
        "y": {"field": "m", "type": "quantitative", "scale": {"domain": [-160, 376], "nice": false, "zero": false}},
        "color": {"datum": "channel=Social Media"}
      }
    },
    {
      "data": {"name": "ch"},
      "mark": {"type": "area", "color": "#e6e135", "opacity": 0.2},
      "encoding": {
        "y": {"field": "T", "type": "quantitative", "scale": {"domain": [-160, 376], "nice": false, "zero": false}},
        "y2": {"datum": 0}
      }
    },
    {
      "data": {"name": "ch"},
      "mark": {"type": "line", "strokeWidth": 4},
      "encoding": {
        "y": {"field": "t", "type": "quantitative", "scale": {"domain": [-160, 376], "nice": false, "zero": false}},
        "color": {"datum": "channel=TV"}
      }
    },
    {
      "data": {"name": "bl"},
      "mark": {"type": "area", "color": "#1ccd6a", "opacity": 0.2},
      "encoding": {
        "y": {"field": "l", "type": "quantitative", "scale": {"domain": [-160, 376], "nice": false, "zero": false}},
        "y2": {"field": "h"}
      }
    },
    {
      "data": {"name": "bl"},
      "mark": {"type": "line", "strokeWidth": 4},
      "encoding": {
        "y": {"field": "v", "type": "quantitative", "scale": {"domain": [-160, 376], "nice": false, "zero": false}},
        "color": {"datum": "baseline"}
      }
    },
    {
      "data": {"name": "w"},
      "mark": {"type": "area", "color": "#bd8ad5", "opacity": 0.2},
      "encoding": {
        "y": {"field": "p", "type": "quantitative", "scale": {"domain": [-160, 376], "nice": false, "zero": false}},
        "y2": {"field": "q"}
      }
    },
    {
      "data": {"name": "w"},
      "mark": {"type": "line", "strokeWidth": 4},
      "encoding": {
        "y": {"field": "c", "type": "quantitative", "scale": {"domain": [-160, 376], "nice": false, "zero": false}},
        "color": {"datum": "controls"}
      }
    },
    {
      "data": {"name": "w"},
      "mark": {"type": "area", "color": "#b16b57", "opacity": 0.2},
      "encoding": {
        "y": {"field": "l", "type": "quantitative", "scale": {"domain": [-160, 376], "nice": false, "zero": false}},
        "y2": {"field": "h"}
      }
    },
    {
      "data": {"name": "w"},
      "mark": {"type": "line", "strokeWidth": 4},
      "encoding": {
        "y": {"field": "e", "type": "quantitative", "scale": {"domain": [-160, 376], "nice": false, "zero": false}},
        "color": {"datum": "seasonality"}
      }
    },
    {
      "data": {"name": "w"},
      "mark": {"type": "line", "strokeWidth": 4},
      "encoding": {
        "y": {
          "field": "s",
          "type": "quantitative",
          "scale": {"domain": [-160, 376], "nice": false, "zero": false},
          "axis": {"title": "Contribution", "values": [-100, 0, 100, 200, 300], "labelExpr": "format(datum.value / 100, 'd')", "titlePadding": 10}
        },
        "stroke": {
          "datum": "Sales",
          "scale": {"range": ["#000000"]},
          "legend": {"title": null, "orient": "none", "legendX": 726, "legendY": 1284}
        }
      }
    },
    {
      "data": {"values": [{"t": "1e8", "d": "2014-05-31T07:12:00Z", "v": 376}]},
      "mark": {"type": "text", "align": "left", "baseline": "alphabetic", "dy": -7, "fontSize": 37, "color": "#262626"},
      "encoding": {
        "y": {"field": "v", "type": "quantitative", "scale": {"domain": [-160, 376], "nice": false, "zero": false}},
        "text": {"field": "t", "type": "nominal"}
      }
    }
  ]
}
